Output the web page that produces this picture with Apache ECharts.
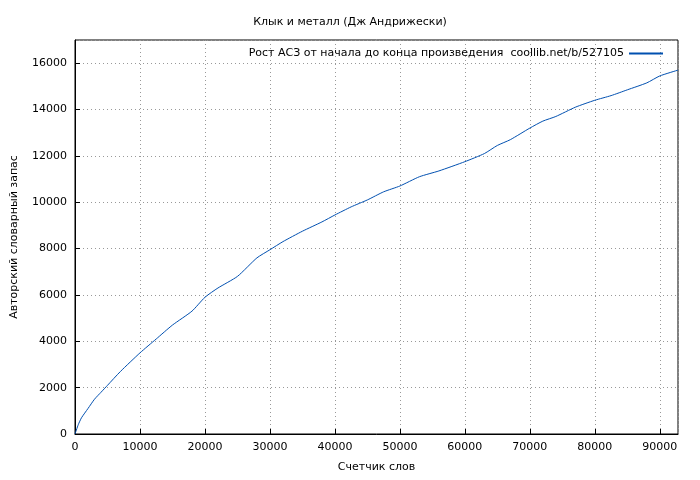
<!DOCTYPE html>
<html><head><meta charset="utf-8">
<script src="https://cdn.jsdelivr.net/npm/echarts@6/dist/echarts.min.js"></script>
<style>html,body{margin:0;padding:0;background:#fff}#c{width:700px;height:480px}</style>
</head><body><div id="c"></div>
<script>
const words = [0,500,1000,2000,3000,4000,5000,7000,10000,12500,15000,18000,20000,22000,25000,28000,30000,32000,35000,38000,40000,42500,45000,47500,50000,53000,56000,60000,63000,65000,67000,70000,72000,74000,77000,80000,82500,85000,88000,90000,92800];
const vocab = [0,400,700,1100,1500,1800,2100,2700,3500,4100,4700,5300,5900,6300,6800,7600,7950,8300,8750,9150,9450,9800,10100,10450,10700,11100,11350,11750,12100,12450,12700,13200,13500,13700,14100,14400,14600,14850,15150,15450,15700];
const title = 'Клык и металл (Дж Андрижески)';
const seriesName = 'Рост АСЗ от начала до конца произведения  coollib.net/b/527105';
const font = 'DejaVu Sans';
const chart = echarts.init(document.getElementById('c'));
chart.setOption({
  animation:false,
  textStyle:{fontFamily:font},
  title:{text:title,left:'center',top:12,textStyle:{fontFamily:font,fontSize:11,fontWeight:'normal',color:'#000'}},
  legend:{data:[seriesName],right:32,top:43,align:'right',itemWidth:34,itemHeight:2,itemGap:5,icon:'rect',textStyle:{fontFamily:font,fontSize:11,color:'#000'}},
  grid:{left:75,right:22,top:40,bottom:46,show:true,borderColor:'#000',borderWidth:1},
  xAxis:{type:'value',min:0,max:92800,interval:10000,name:'Счетчик слов',nameLocation:'middle',nameGap:28,
    nameTextStyle:{fontFamily:font,fontSize:11,color:'#000'},
    axisLine:{lineStyle:{color:'#000'}},axisTick:{inside:true,length:5,lineStyle:{color:'#000'}},
    axisLabel:{showMaxLabel:false,color:'#000',fontFamily:font,fontSize:11,formatter:v=>String(v)},
    splitLine:{show:true,lineStyle:{color:'#999',type:[1,3]}}},
  yAxis:{type:'value',min:0,max:17000,interval:2000,name:'Авторский словарный запас',nameLocation:'middle',nameGap:55,
    nameTextStyle:{fontFamily:font,fontSize:11,color:'#000'},
    axisLine:{lineStyle:{color:'#000'}},axisTick:{inside:true,length:5,lineStyle:{color:'#000'}},
    axisLabel:{showMaxLabel:false,color:'#000',fontFamily:font,fontSize:11,formatter:v=>String(v)},
    splitLine:{show:true,lineStyle:{color:'#999',type:[1,3]}}},
  series:[{name:seriesName,type:'line',showSymbol:false,smooth:0.2,data:words.map((w,i)=>[w,vocab[i]]),lineStyle:{color:'#0050b0',width:1},itemStyle:{color:'#0050b0'}}]
});
</script></body></html>
